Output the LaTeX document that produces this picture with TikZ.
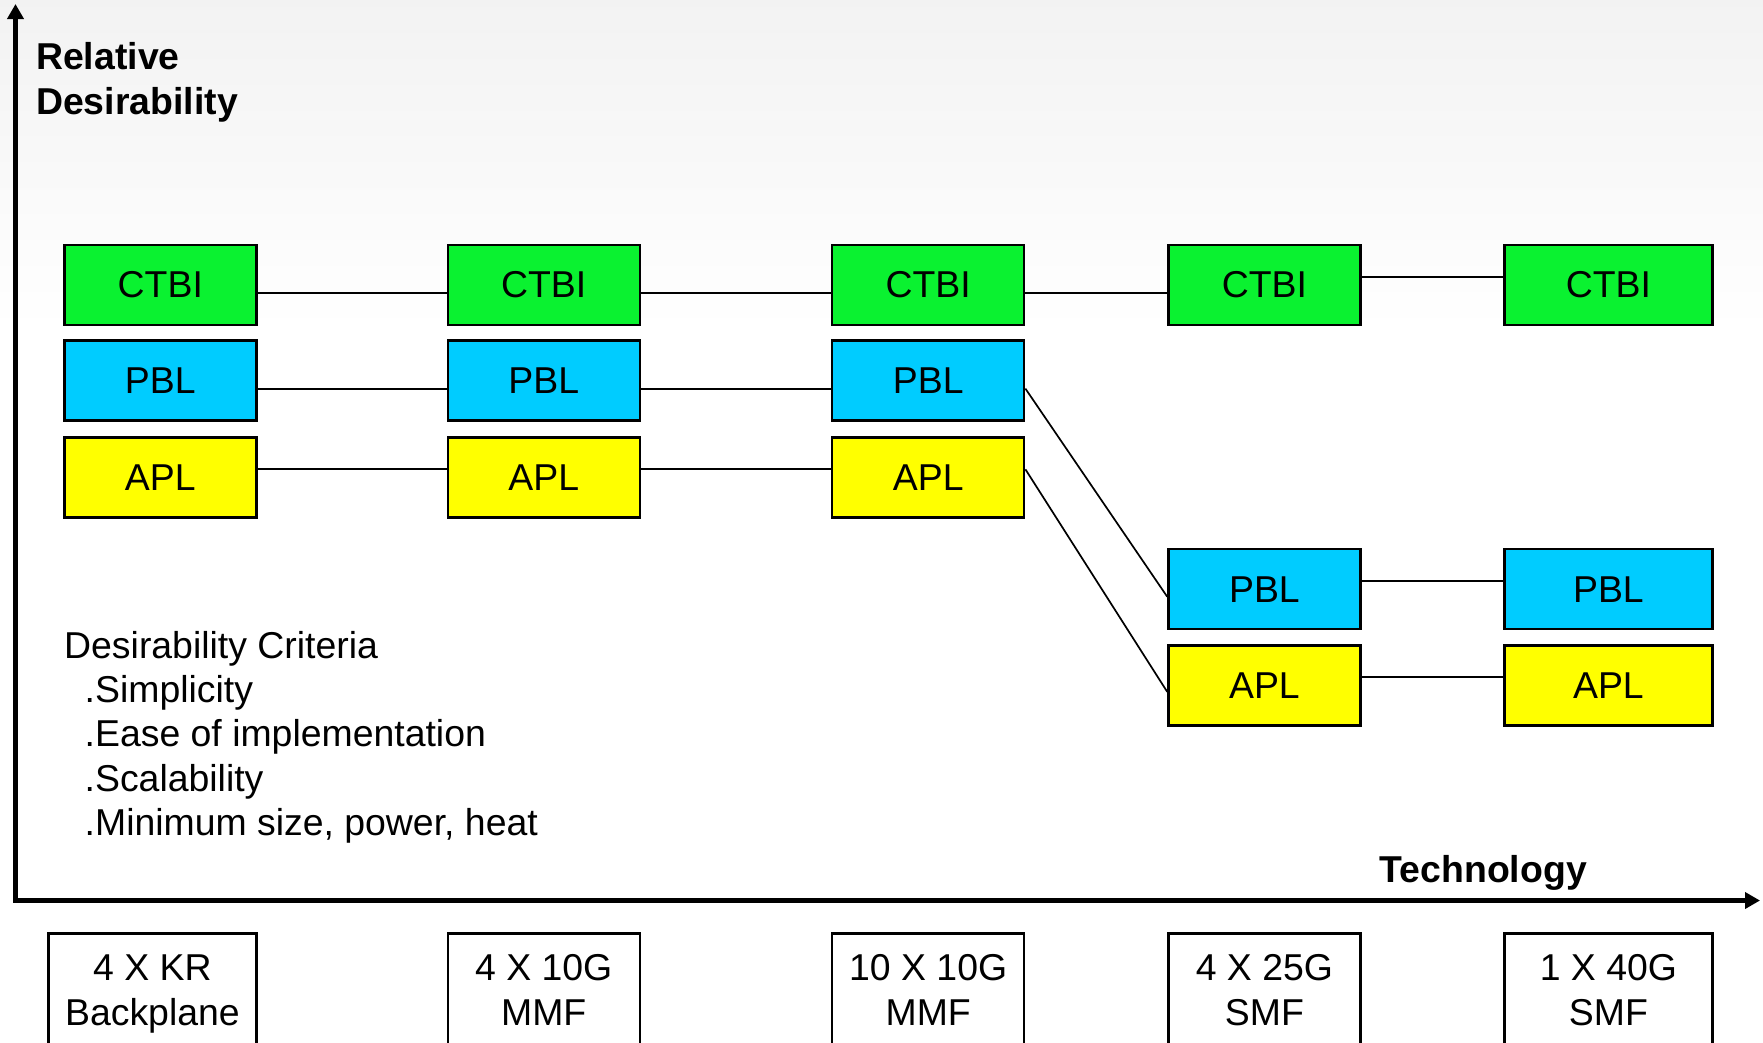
\documentclass[tikz,border=0pt]{standalone}
\usepackage{fontspec}
\setmainfont{Liberation Sans}
\usetikzlibrary{arrows.meta}
\definecolor{boxgreen}{RGB}{10,242,48}
\definecolor{boxblue}{RGB}{0,204,255}
\definecolor{boxyellow}{RGB}{255,255,0}
\tikzset{
  txt/.style={font=\fontsize{37.4}{44.4}\selectfont, inner sep=0pt, text=black},
  btxt/.style={font=\fontsize{37.4}{44.4}\selectfont\bfseries, inner sep=0pt, text=black},
  techbox/.style={draw=black, line width=2.4pt, minimum width=192pt, minimum height=80pt,
    inner sep=0pt, font=\fontsize{37.4}{44.4}\selectfont},
  ctbi/.style={techbox, fill=boxgreen},
  pbl/.style={techbox, fill=boxblue},
  apl/.style={techbox, fill=boxyellow},
  wide/.style={minimum width=208pt},
  link/.style={draw=black, line width=2pt},
  diag/.style={draw=black, line width=1.7pt},
  axis/.style={draw=black, line width=4.2pt, -{Triangle[length=15pt,width=16pt]}},
  techlabel/.style={draw=black, line width=2.4pt, fill=white, minimum height=127pt, inner sep=0pt}
}
\begin{document}
\begin{tikzpicture}[x=1pt,y=-1pt]
\useasboundingbox (0,0) rectangle (1763,1042);
\clip (0,0) rectangle (1763,1042);
% background
\fill[white] (0,0) rectangle (1763,1042);
\shade[top color=black!5, bottom color=white] (0,0) rectangle (1763,330);

% axes
\coordinate (origin) at (15.5,900.5);
\coordinate (ytop) at (15.5,4);
\coordinate (xend) at (1760,900.5);
\draw[axis] ([yshift=-2pt]origin) -- (ytop);
\draw[axis] ([xshift=-2pt]origin) -- (xend);

% axis titles
\node[btxt, anchor=base west] (rel1) at (36,69) {Relative};
\node[btxt, anchor=base west] (rel2) at (36,114) {Desirability};
\node[btxt, anchor=base west] (tech) at (1379.5,882.5) {Technology};

% boxes row CTBI
\node[ctbi] (c1) at (160.3,285) {CTBI};
\node[ctbi] (c2) at (543.7,285) {CTBI};
\node[ctbi] (c3) at (928.2,285) {CTBI};
\node[ctbi] (c4) at (1264.4,285) {CTBI};
\node[ctbi, wide] (c5) at (1608.4,285) {CTBI};
% row PBL
\node[pbl] (p1) at (160.3,380.6) {PBL};
\node[pbl] (p2) at (543.7,380.6) {PBL};
\node[pbl] (p3) at (928.2,380.6) {PBL};
\node[pbl] (p4) at (1264.4,589.2) {PBL};
\node[pbl, wide] (p5) at (1608.4,589.2) {PBL};
% row APL
\node[apl] (a1) at (160.3,477.3) {APL};
\node[apl] (a2) at (543.7,477.3) {APL};
\node[apl] (a3) at (928.2,477.3) {APL};
\node[apl] (a4) at (1264.4,685.3) {APL};
\node[apl, wide] (a5) at (1608.4,685.3) {APL};

% connectors
\draw[link] ([yshift=-7.5pt]c1.east) -- ([yshift=-7.5pt]c2.west);
\draw[link] ([yshift=-7.5pt]c2.east) -- ([yshift=-7.5pt]c3.west);
\draw[link] ([yshift=-7.5pt]c3.east) -- ([yshift=-7.5pt]c4.west);
\draw[link] ([yshift=8pt]c4.east) -- ([yshift=8pt]c5.west);
\draw[link] ([yshift=-8pt]p1.east) -- ([yshift=-8pt]p2.west);
\draw[link] ([yshift=-8pt]p2.east) -- ([yshift=-8pt]p3.west);
\draw[link] ([yshift=8pt]a1.east) -- ([yshift=8pt]a2.west);
\draw[link] ([yshift=8pt]a2.east) -- ([yshift=8pt]a3.west);
\draw[link] ([yshift=8pt]p4.east) -- ([yshift=8pt]p5.west);
\draw[link] ([yshift=8pt]a4.east) -- ([yshift=8pt]a5.west);
\draw[diag] ([yshift=-8pt]p3.east) -- ([yshift=-7.5pt]p4.west);
\draw[diag] ([yshift=8pt]a3.east) -- ([yshift=-6.5pt]a4.west);

% criteria
\node[txt, anchor=base west] (crit) at (64,658) {Desirability Criteria};
\node[txt, anchor=base west] (crit1) at (84.5,702.4) {.Simplicity};
\node[txt, anchor=base west] (crit2) at (84.5,746.8) {.Ease of implementation};
\node[txt, anchor=base west] (crit3) at (84.5,791.2) {.Scalability};
\node[txt, anchor=base west] (crit4) at (84.5,835.6) {.Minimum size, power, heat};

% technology boxes (cut by the bottom edge)
\node[techlabel, minimum width=208pt] (t1) at (152.4,996.8) {};
\node[techlabel, minimum width=192pt] (t2) at (543.7,996.8) {};
\node[techlabel, minimum width=192pt] (t3) at (928.2,996.8) {};
\node[techlabel, minimum width=192pt] (t4) at (1264.4,996.8) {};
\node[techlabel, minimum width=208pt] (t5) at (1608.4,996.8) {};
\node[txt, anchor=base] (t1a) at (152.4,980.5) {4 X KR};
\node[txt, anchor=base] (t1b) at (152.4,1025) {Backplane};
\node[txt, anchor=base] (t2a) at (543.7,980.5) {4 X 10G};
\node[txt, anchor=base] (t2b) at (543.7,1025) {MMF};
\node[txt, anchor=base] (t3a) at (928.2,980.5) {10 X 10G};
\node[txt, anchor=base] (t3b) at (928.2,1025) {MMF};
\node[txt, anchor=base] (t4a) at (1264.4,980.5) {4 X 25G};
\node[txt, anchor=base] (t4b) at (1264.4,1025) {SMF};
\node[txt, anchor=base] (t5a) at (1608.4,980.5) {1 X 40G};
\node[txt, anchor=base] (t5b) at (1608.4,1025) {SMF};
\end{tikzpicture}
\end{document}
